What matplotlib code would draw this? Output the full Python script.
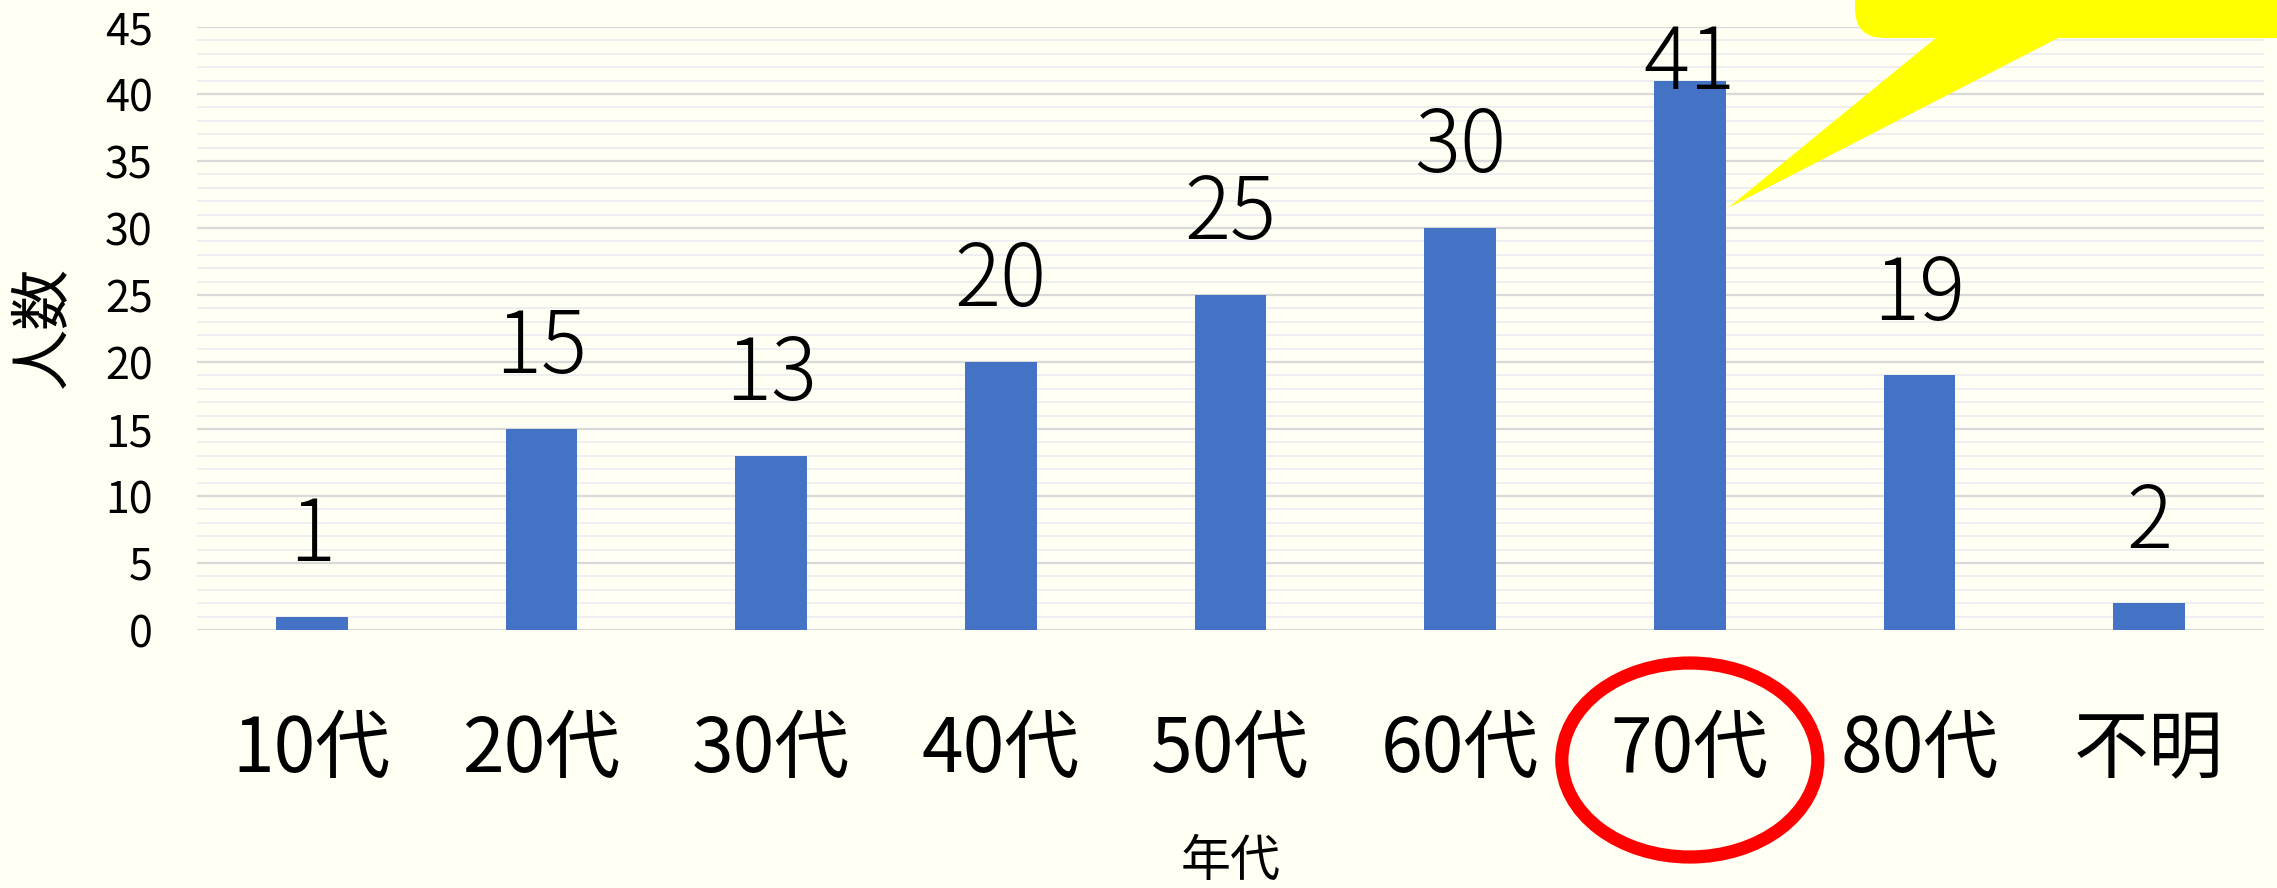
import matplotlib
matplotlib.use("Agg")
import matplotlib.pyplot as plt
from matplotlib.ticker import MultipleLocator
from matplotlib.patches import Ellipse, FancyBboxPatch, Polygon

plt.rcParams['font.family'] = ['Noto Sans CJK JP', 'DejaVu Sans']

categories = ["10代", "20代", "30代", "40代", "50代", "60代", "70代", "80代", "不明"]
counts = [1, 15, 13, 20, 25, 30, 41, 19, 2]
y_ticks = [0, 5, 10, 15, 20, 25, 30, 35, 40, 45]
x_title = "年代"
y_title = "人数"
highlight_index = 6

BG = '#FFFFF3'
BAR = '#4472C4'
W, H = 2277, 888

fig = plt.figure(figsize=(W / 100, H / 100), dpi=100, facecolor=BG)
ax = fig.add_axes([197 / W, 1 - 630 / H, 2067 / W, 603 / H])
ax.set_facecolor(BG)

x = list(range(len(categories)))
bw = 0.313
ax.bar(x, counts, width=bw, color=BAR, zorder=3)

ax.set_xlim(-0.5, len(categories) - 0.5)
ax.set_ylim(0, 45)
ax.yaxis.set_major_locator(MultipleLocator(5))
ax.yaxis.set_minor_locator(MultipleLocator(1))
ax.set_yticks(y_ticks)
ax.set_yticklabels([str(t) for t in y_ticks])
ax.set_xticks(x)
ax.set_xticklabels(categories)

ax.grid(which='minor', axis='y', color='#EEEEF0', linewidth=1.4, zorder=0)
ax.grid(which='major', axis='y', color='#D9D9D9', linewidth=1.6, zorder=1)
ax.set_axisbelow(True)
for s in ax.spines.values():
    s.set_visible(False)
ax.tick_params(axis='both', which='both', length=0)
ax.tick_params(axis='y', labelsize=31, pad=32)
ax.tick_params(axis='x', labelsize=54, pad=59)

for i, v in enumerate(counts):
    ax.text(i, min(v + 4.15, 40.4), str(v), ha='center', va='baseline',
            fontsize=62, fontweight='light', color='black', zorder=5)

ax.set_xlabel(x_title, fontsize=36, va='center')
ax.xaxis.set_label_coords(0.5, -0.385)
ax.set_ylabel(y_title, fontsize=44, va='center', ha='center')
ax.yaxis.set_label_coords(-0.074, 0.5025)

# red ellipse around highlighted tick label
fig.canvas.draw()
cx_disp, _ = ax.transData.transform((highlight_index, 0))
ell = Ellipse((cx_disp / W, 1 - 760 / H), 256 / W, 194 / H,
              transform=fig.transFigure, fill=False, edgecolor='#FF0000',
              linewidth=9.5, zorder=10)
fig.add_artist(ell)

# yellow callout
box = FancyBboxPatch((1855 / W, 1 - 38 / H), 600 / W, 200 / H,
                     boxstyle="round,pad=0,rounding_size=0.013",
                     transform=fig.transFigure, facecolor='#FFFF00',
                     edgecolor='none', zorder=10, mutation_aspect=W / H)
fig.add_artist(box)
tip_disp = ax.transData.transform((highlight_index + bw / 2 + 0.01, 31.5))
tri = Polygon([(1937 / W, 1 - 37 / H), (2060 / W, 1 - 37 / H),
               (tip_disp[0] / W, tip_disp[1] / H)],
              closed=True, transform=fig.transFigure, facecolor='#FFFF00',
              edgecolor='none', zorder=10)
fig.add_artist(tri)

fig.savefig("out.png", dpi=100, facecolor=BG)
